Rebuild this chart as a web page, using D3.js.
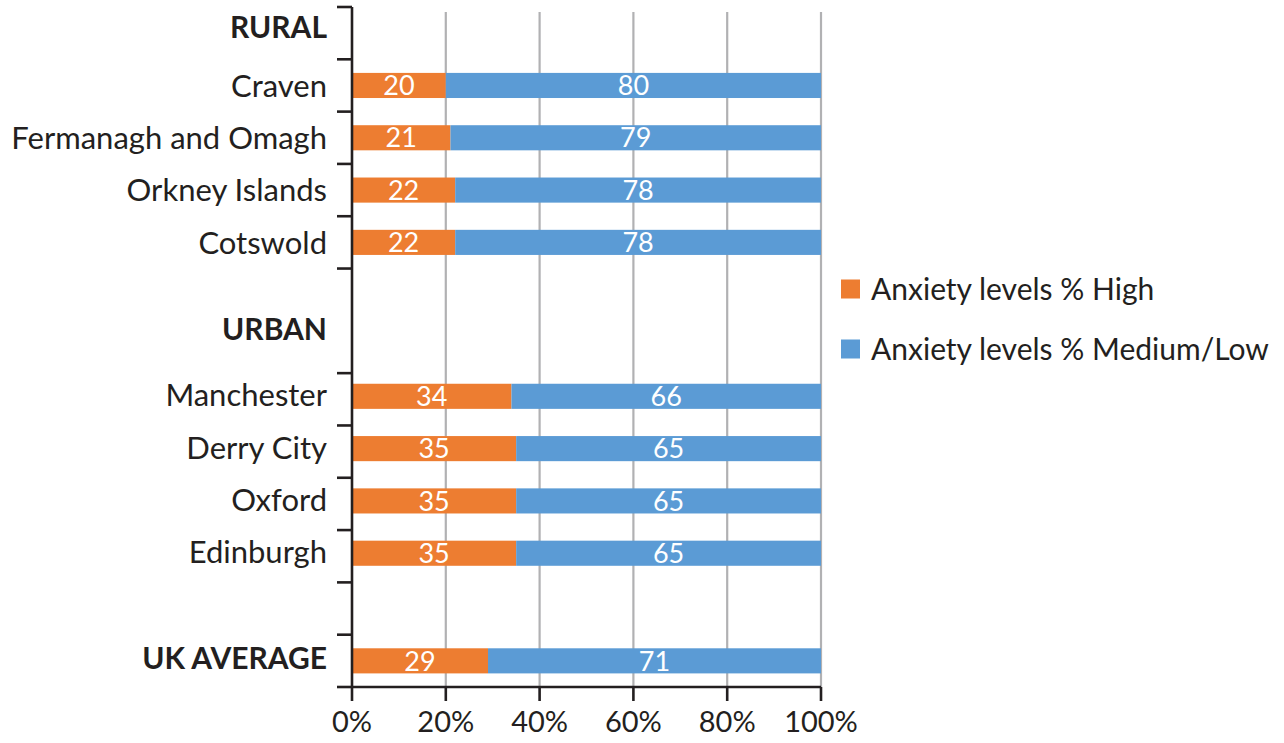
<!DOCTYPE html>
<html>
<head>
<meta charset="utf-8">
<script src="https://cdn.jsdelivr.net/npm/d3@7"></script>
<style>
  html, body { margin: 0; padding: 0; background: #fff; }
  svg { display: block; }
  text { font-family: Lato, "Open Sans", sans-serif; fill: #231f20; }
</style>
</head>
<body>
<svg id="chart" width="1284" height="743"></svg>
<script>
// ---- data ----
const categories = ["RURAL", "Craven", "Fermanagh and Omagh", "Orkney Islands", "Cotswold", "",
                    "URBAN", "Manchester", "Derry City", "Oxford", "Edinburgh", "", "UK AVERAGE"];
const headers = ["RURAL", "URBAN", "UK AVERAGE"];
const highValues =   [null, 20, 21, 22, 22, null, null, 34, 35, 35, 35, null, 29];
const mediumValues = [null, 80, 79, 78, 78, null, null, 66, 65, 65, 65, null, 71];
const seriesNames = ["Anxiety levels % High", "Anxiety levels % Medium/Low"];
const seriesColors = ["#ED7D31", "#5B9BD5"];
const xTicks = [0, 20, 40, 60, 80, 100];
const xTickLabels = ["0%", "20%", "40%", "60%", "80%", "100%"];

(function () {
// ---- layout ----
const svg = d3.select("#chart");
const pLeft = 352, pRight = 821, pTop = 7, pBottom = 687;
const idx = categories.map((d, i) => i);

const x = d3.scaleLinear().domain([0, 100]).range([pLeft, pRight]);
const y = d3.scaleBand().domain(idx).range([pTop, pBottom]).paddingInner(0).paddingOuter(0);
const bh = y.bandwidth() * 0.48;

// gridlines
svg.append("g").selectAll("line").data(xTicks.filter(t => t > 0)).join("line")
  .attr("x1", d => x(d)).attr("x2", d => x(d))
  .attr("y1", 12).attr("y2", pBottom)
  .attr("stroke", "#b1b1b3").attr("stroke-width", 2.2);

// bars
const rows = idx.filter(i => highValues[i] != null);
const gBars = svg.append("g");
rows.forEach(i => {
  let cy = y(i) + y.bandwidth() / 2;
  if (i >= 7 && i <= 10) cy -= 3;
  const segs = [
    { v0: 0, v1: highValues[i], val: highValues[i], c: seriesColors[0] },
    { v0: highValues[i], v1: highValues[i] + mediumValues[i], val: mediumValues[i], c: seriesColors[1] }
  ];
  segs.forEach(s => {
    gBars.append("rect")
      .attr("x", x(s.v0)).attr("width", x(s.v1) - x(s.v0))
      .attr("y", cy - bh / 2).attr("height", bh)
      .attr("fill", s.c);
    gBars.append("text")
      .attr("x", (x(s.v0) + x(s.v1)) / 2).attr("y", cy)
      .attr("dy", "0.36em").attr("text-anchor", "middle")
      .style("font-size", "27px").style("fill", "#fff")
      .text(s.val);
  });
});

// axes
const axisColor = "#231f20";
const ga = svg.append("g");
ga.append("line").attr("x1", pLeft).attr("x2", pLeft).attr("y1", pTop).attr("y2", pBottom)
  .attr("stroke", axisColor).attr("stroke-width", 2.6);
ga.append("line").attr("x1", pLeft).attr("x2", pRight).attr("y1", pBottom).attr("y2", pBottom)
  .attr("stroke", axisColor).attr("stroke-width", 2.6);
// y ticks at band boundaries (no tick between gap and URBAN)
const boundaries = idx.map(i => y(i)).concat([pBottom]);
ga.selectAll("line.yt").data(boundaries.filter((b, i) => i !== 6)).join("line")
  .attr("class", "yt")
  .attr("x1", pLeft - 15).attr("x2", pLeft).attr("y1", d => d).attr("y2", d => d)
  .attr("stroke", axisColor).attr("stroke-width", 2.6);
// x ticks
ga.selectAll("line.xt").data(xTicks).join("line")
  .attr("class", "xt")
  .attr("x1", d => x(d)).attr("x2", d => x(d)).attr("y1", pBottom).attr("y2", pBottom + 14)
  .attr("stroke", axisColor).attr("stroke-width", 2.6);
ga.selectAll("text.xl").data(xTicks).join("text")
  .attr("class", "xl")
  .attr("x", d => x(d)).attr("y", 722).attr("dy", "0.36em").attr("text-anchor", "middle")
  .style("font-size", "29px")
  .text((d, i) => xTickLabels[i]);

// category labels
const gl = svg.append("g");
idx.forEach(i => {
  const name = categories[i];
  if (!name) return;
  const isHeader = headers.includes(name);
  let cy = y(i) + y.bandwidth() / 2;
  if (name === "RURAL") cy -= 6;
  if (name === "URBAN") cy = y(i) + 8;
  if (name === "UK AVERAGE") cy -= 3;
  if (i >= 7 && i <= 10) cy -= 4;
  gl.append("text")
    .attr("x", 327).attr("y", cy).attr("dy", "0.36em").attr("text-anchor", "end")
    .style("font-size", isHeader ? "30px" : "31px").style("font-weight", isHeader ? "bold" : "normal")
    .text(name);
});

// legend
const lg = svg.append("g");
seriesNames.forEach((n, i) => {
  const cy = 289 + i * 60;
  lg.append("rect").attr("x", 841).attr("y", cy - 9.5).attr("width", 19).attr("height", 19)
    .attr("fill", seriesColors[i]);
  lg.append("text").attr("x", 871).attr("y", cy).attr("dy", "0.36em")
    .style("font-size", "30px").text(n);
});
})();
</script>
</body>
</html>
